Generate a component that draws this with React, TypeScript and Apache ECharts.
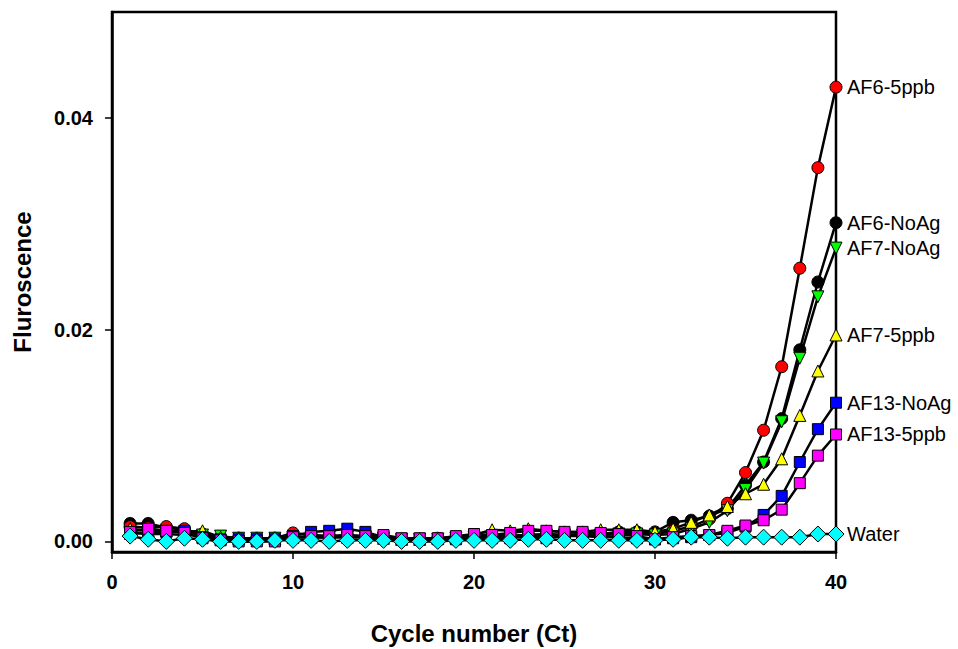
import React, { useEffect, useRef } from "react";
import * as echarts from "echarts";

// Cycle numbers 1..40
const cycles: number[] = [
  1, 2, 3, 4, 5, 6, 7, 8, 9, 10, 11, 12, 13, 14, 15, 16, 17, 18, 19, 20,
  21, 22, 23, 24, 25, 26, 27, 28, 29, 30, 31, 32, 33, 34, 35, 36, 37, 38, 39, 40,
];

const af6NoAg: number[] = [
  0.0017, 0.0017, 0.0013, 0.0011, 0.0007, 0.0004, 0.0003, 0.0003, 0.0003, 0.0004,
  0.0004, 0.0004, 0.0005, 0.0004, 0.0003, 0.0002, 0.0002, 0.0003, 0.0003, 0.0004,
  0.0005, 0.0005, 0.0006, 0.0006, 0.0006, 0.0007, 0.0007, 0.0009, 0.0009, 0.0009,
  0.0018, 0.002, 0.0024, 0.0031, 0.0053, 0.0075, 0.0116, 0.0181, 0.0245, 0.0301,
];

const af65ppb: number[] = [
  0.0014, 0.0013, 0.0014, 0.0012, 0.0006, 0.0003, 0.0003, 0.0002, 0.0003, 0.0008,
  0.0006, 0.0005, 0.0005, 0.0004, 0.0003, 0.0002, 0.0002, 0.0002, 0.0003, 0.0004,
  0.0005, 0.0005, 0.0006, 0.0007, 0.0006, 0.0006, 0.0006, 0.0007, 0.0007, 0.0007,
  0.001, 0.0014, 0.0021, 0.0036, 0.0065, 0.0105, 0.0165, 0.0258, 0.0353, 0.0429,
];

const af7NoAg: number[] = [
  0.0008, 0.0007, 0.0007, 0.0006, 0.0006, 0.0005, 0.0003, 0.0003, 0.0003, 0.0004,
  0.0004, 0.0004, 0.0004, 0.0004, 0.0003, 0.0002, 0.0002, 0.0002, 0.0003, 0.0004,
  0.0005, 0.0005, 0.0005, 0.0006, 0.0006, 0.0006, 0.0006, 0.0007, 0.0007, 0.0006,
  0.0007, 0.0012, 0.0018, 0.0029, 0.0049, 0.0074, 0.0113, 0.0173, 0.0231, 0.0277,
];

const af75ppb: number[] = [
  0.0012, 0.001, 0.001, 0.0009, 0.001, 0.0004, 0.0003, 0.0003, 0.0003, 0.0004,
  0.0004, 0.0004, 0.0004, 0.0004, 0.0003, 0.0002, 0.0002, 0.0003, 0.0004, 0.0006,
  0.0011, 0.001, 0.0012, 0.001, 0.0009, 0.0009, 0.0011, 0.0011, 0.0011, 0.0009,
  0.0012, 0.0018, 0.0025, 0.0033, 0.0045, 0.0054, 0.0078, 0.0119, 0.0161, 0.0195,
];

const af13NoAg: number[] = [
  0.0007, 0.0009, 0.0009, 0.001, 0.0004, 0.0002, 0.0002, 0.0002, 0.0002, 0.0005,
  0.0009, 0.001, 0.0012, 0.0009, 0.0004, 0.0002, 0.0002, 0.0002, 0.0002, 0.0004,
  0.0003, 0.0003, 0.0005, 0.0003, 0.0005, 0.0005, 0.0004, 0.0004, 0.0003, 0.0002,
  0.0003, 0.0004, 0.0006, 0.0008, 0.0014, 0.0025, 0.0043, 0.0075, 0.0106, 0.0131,
];

const af135ppb: number[] = [
  0.0009, 0.0012, 0.001, 0.0008, 0.0003, 0.0001, 0.0, 0.0, 0.0, 0.0004,
  0.0005, 0.0005, 0.0006, 0.0005, 0.0006, 0.0003, 0.0003, 0.0003, 0.0005, 0.0007,
  0.0006, 0.0008, 0.001, 0.001, 0.0009, 0.0009, 0.0008, 0.0007, 0.0005, 0.0002,
  0.0004, 0.0005, 0.0006, 0.001, 0.0015, 0.002, 0.003, 0.0055, 0.0081, 0.0101,
];

const water: number[] = [
  0.0005, 0.0002, 0.0, 0.0003, 0.0002, 0.0, 0.0, 0.0, 0.0001, 0.0001,
  0.0001, 0.0, 0.0001, 0.0001, 0.0001, 0.0, 0.0, 0.0, 0.0001, 0.0001,
  0.0001, 0.0001, 0.0002, 0.0002, 0.0001, 0.0001, 0.0001, 0.0001, 0.0001, 0.0001,
  0.0002, 0.0004, 0.0004, 0.0003, 0.0004, 0.0004, 0.0004, 0.0004, 0.0007, 0.0007,
];

const xTicks: number[] = [0, 10, 20, 30, 40];
const yTicks: number[] = [0, 0.02, 0.04];

const FONT = "'Liberation Sans', Arial, Helvetica, sans-serif";

type SeriesDef = {
  name: string;
  values: number[];
  color: string;
  symbol: string;
  size: number;
  rotate?: number;
};

const seriesDefs: SeriesDef[] = [
  { name: "AF6-NoAg", values: af6NoAg, color: "#000000", symbol: "circle", size: 12 },
  { name: "AF6-5ppb", values: af65ppb, color: "#ff0000", symbol: "circle", size: 12 },
  { name: "AF7-NoAg", values: af7NoAg, color: "#00ff00", symbol: "triangle", size: 12, rotate: 180 },
  { name: "AF7-5ppb", values: af75ppb, color: "#ffff00", symbol: "triangle", size: 12 },
  { name: "AF13-NoAg", values: af13NoAg, color: "#0000ff", symbol: "rect", size: 11 },
  { name: "AF13-5ppb", values: af135ppb, color: "#ff00ff", symbol: "rect", size: 11 },
  { name: "Water", values: water, color: "#00ffff", symbol: "diamond", size: 16 },
];

export default function App() {
  const ref = useRef<HTMLDivElement>(null);

  useEffect(() => {
    if (!ref.current) return;
    const chart = echarts.init(ref.current, undefined, { renderer: "svg" });

    const series = seriesDefs.map((s) => ({
      name: s.name,
      type: "line",
      data: cycles.map((c, i) => [c, s.values[i]]),
      symbol: s.symbol,
      symbolSize: s.size,
      symbolRotate: s.rotate ?? 0,
      showAllSymbol: true,
      lineStyle: { color: "#000", width: 2.5 },
      itemStyle: { color: s.color, borderColor: "#000", borderWidth: 1 },
      endLabel: {
        show: true,
        formatter: "{a}",
        distance: 11,
        color: "#000",
        fontFamily: FONT,
        fontSize: 20,
      },
      emphasis: { disabled: true },
      z: 2,
    }));

    chart.setOption({
      animation: false,
      backgroundColor: "#fff",
      grid: {
        left: 112,
        right: 122,
        top: 12,
        bottom: 97,
        outerBoundsMode: "none",
        containLabel: false,
        show: true,
        borderColor: "#000",
        borderWidth: 2.5,
      },
      xAxis: {
        type: "value",
        min: 0,
        max: 40,
        interval: 10,
        name: "Cycle number (Ct)",
        nameLocation: "middle",
        nameGap: 69,
        nameTextStyle: { fontFamily: FONT, fontSize: 24, fontWeight: "bold", color: "#000" },
        axisLine: { show: true, onZero: false, lineStyle: { color: "#000", width: 2.5 } },
        axisTick: { show: true, inside: false, length: 7, lineStyle: { color: "#000", width: 1.5 }, customValues: xTicks },
        axisLabel: {
          color: "#000",
          fontFamily: FONT,
          fontSize: 20,
          fontWeight: "bold",
          margin: 20,
          customValues: xTicks,
        },
        splitLine: { show: false },
      },
      yAxis: {
        type: "value",
        min: -0.001,
        max: 0.05,
        name: "Fluroscence",
        nameLocation: "middle",
        nameGap: 78,
        nameTextStyle: { fontFamily: FONT, fontSize: 24, fontWeight: "bold", color: "#000" },
        axisLine: { show: true, onZero: false, lineStyle: { color: "#000", width: 2.5 } },
        axisTick: { show: true, inside: false, length: 7, lineStyle: { color: "#000", width: 1.5 }, customValues: yTicks },
        axisLabel: {
          color: "#000",
          fontFamily: FONT,
          fontSize: 20,
          fontWeight: "bold",
          margin: 19,
          customValues: yTicks,
          formatter: (v: number) => v.toFixed(2),
        },
        splitLine: { show: false },
      },
      series,
    });

    return () => chart.dispose();
  }, []);

  return (
    <div
      ref={ref}
      style={{ position: "fixed", left: 0, top: 0, width: 958, height: 649, background: "#fff" }}
    />
  );
}
